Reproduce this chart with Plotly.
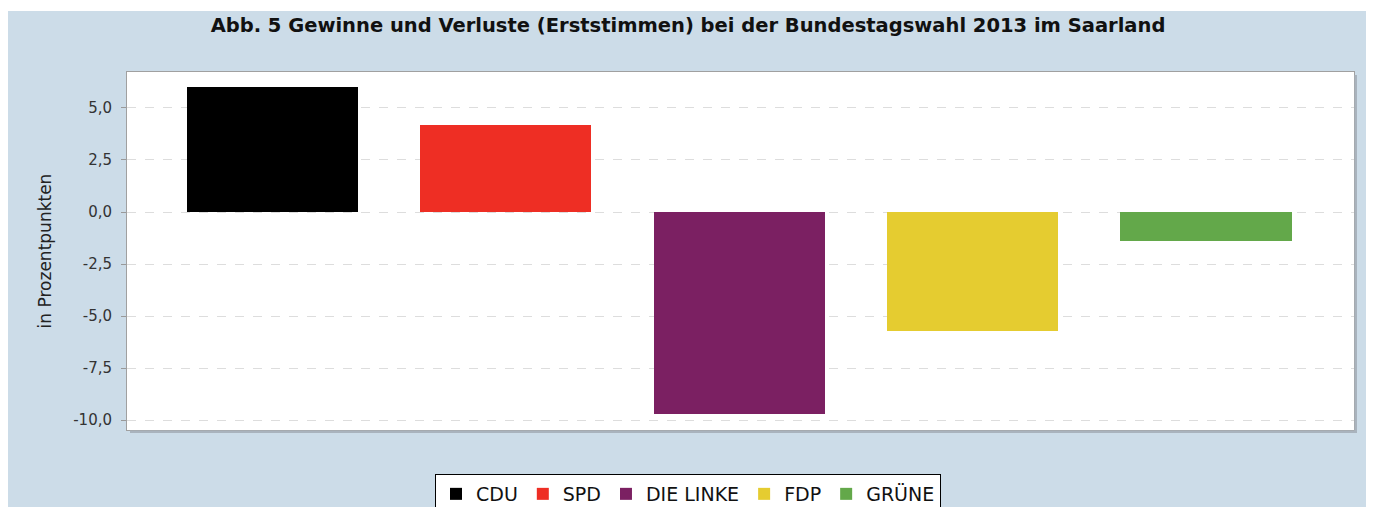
import plotly.graph_objects as go

parties = ["CDU", "SPD", "DIE LINKE", "FDP", "GRÜNE"]
changes = [6.0, 4.2, -9.7, -5.7, -1.4]
colors = ["#000000", "#EE2E24", "#7B2062", "#E5CC30", "#63A84A"]
tick_vals = [5.0, 2.5, 0.0, -2.5, -5.0, -7.5, -10.0]
tick_text = ["5,0", "2,5", "0,0", "-2,5", "-5,0", "-7,5", "-10,0"]

fig = go.Figure()
for i, (p, v, c) in enumerate(zip(parties, changes, colors)):
    fig.add_trace(go.Bar(
        x=[i], y=[v], name=p, marker=dict(color=c, line=dict(width=0)),
        width=0.734, showlegend=True,
    ))

blue = "#CCDCE8"
shadow = "#A9B3BD"
font_family = "DejaVu Sans, Liberation Sans, Arial, sans-serif"
pw, ph = 1227, 358
fig.update_layout(
    width=1374, height=507,
    paper_bgcolor=blue, plot_bgcolor="white",
    margin=dict(l=119, r=28, t=64, b=85),
    font=dict(family=font_family, size=14, color="#333333"),
    title=dict(text="<b>Abb. 5 Gewinne und Verluste (Erststimmen) bei der Bundestagswahl 2013 im Saarland</b>",
               x=680 / 1374, xanchor="center", y=1 - 17 / 507, yanchor="middle",
               font=dict(family=font_family, size=19.5, color="#111111")),
    barmode="overlay",
    bargap=0,
    showlegend=True,
    legend=dict(orientation="h", xref="container", x=680 / 1374, xanchor="center",
                yref="container", y=1 - 466 / 507, yanchor="top",
                bgcolor="white", bordercolor="black", borderwidth=1,
                font=dict(family=font_family, size=19, color="#111111"),
                traceorder="normal", itemwidth=30),
    xaxis=dict(range=[-0.623, 4.634], showticklabels=False, showgrid=False,
               zeroline=False, ticks="", showline=True, linecolor="#A0A0A0",
               linewidth=1, mirror=True),
    yaxis=dict(range=[-10.48, 6.73], tickvals=tick_vals, ticktext=tick_text,
               showgrid=True, gridcolor="#DDDDDD", griddash="dash", gridwidth=1,
               zeroline=False, ticks="outside", ticklen=5, tickcolor="#999999",
               ticklabelstandoff=6,
               showline=True, linecolor="#A0A0A0", linewidth=1, mirror=True,
               tickfont=dict(family=font_family, size=15, color="#333333"),
               title=dict(text="in Prozentpunkten",
                          font=dict(family=font_family, size=17, color="#222222"),
                          standoff=17)),
    shapes=[
        dict(type="rect", xref="paper", yref="paper", x0=-0.2, x1=1.1,
             y0=(422 - 3) / 358, y1=1.3, fillcolor="white", line=dict(width=0), layer="below"),
        dict(type="rect", xref="paper", yref="paper", x0=1 + 0.5 / pw, x1=1 + 3 / pw,
             y0=-3 / ph, y1=1 - 3 / ph, fillcolor=shadow, line=dict(width=0), layer="above"),
        dict(type="rect", xref="paper", yref="paper", x0=3 / pw, x1=1 + 3 / pw,
             y0=-3 / ph, y1=-0.5 / ph, fillcolor=shadow, line=dict(width=0), layer="above"),
    ],
)

fig.write_html("out.html")
